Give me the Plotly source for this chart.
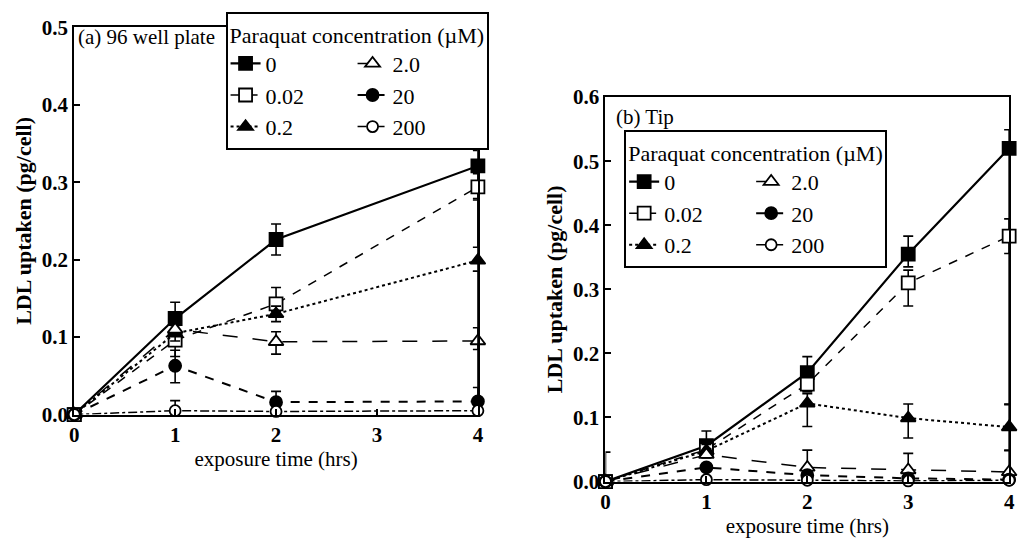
import plotly.graph_objects as go

# Paraquat concentrations (µM); the legend shows them in two columns
conc_labels = ["0", "0.02", "0.2", "2.0", "20", "200"]
legend_column = ["a", "a", "a", "b", "b", "b"]

# (a) 96 well plate: exposure times and LDL uptake (pg/cell)
plate_hours = [0, 1, 2, 4]
plate_0 = [0.0, 0.124, 0.226, 0.321]
plate_002 = [0.0, 0.096, 0.143, 0.294]
plate_02 = [0.0, 0.105, 0.130, 0.199]
plate_2 = [0.0, 0.110, 0.094, 0.095]
plate_20 = [0.0, 0.063, 0.016, 0.017]
plate_200 = [0.0, 0.005, 0.004, 0.005]

plate_0_up = [0.0, 0.021, 0.020, 0.020]
plate_0_dn = [0.0, 0.020, 0.020, 0.105]
plate_002_up = [0.0, 0.010, 0.021, 0.017]
plate_002_dn = [0.0, 0.021, 0.010, 0.017]
plate_02_up = [0.0, 0.010, 0.010, 0.080]
plate_02_dn = [0.0, 0.010, 0.010, 0.014]
plate_2_up = [0.0, 0.008, 0.013, 0.090]
plate_2_dn = [0.0, 0.008, 0.016, 0.011]
plate_20_up = [0.0, 0.020, 0.014, 0.095]
plate_20_dn = [0.0, 0.022, 0.005, 0.010]
plate_200_up = [0.0, 0.013, 0.003, 0.030]
plate_200_dn = [0.0, 0.005, 0.003, 0.005]

# (b) Tip: exposure times and LDL uptake (pg/cell)
tip_hours = [0, 1, 2, 3, 4]
tip_0 = [0.0, 0.056, 0.170, 0.355, 0.520]
tip_002 = [0.0, 0.050, 0.152, 0.310, 0.383]
tip_02 = [0.0, 0.048, 0.122, 0.099, 0.085]
tip_2 = [0.0, 0.042, 0.022, 0.018, 0.015]
tip_20 = [0.0, 0.022, 0.010, 0.005, 0.003]
tip_200 = [0.0, 0.003, 0.002, 0.001, 0.002]

tip_0_up = [0.046, 0.023, 0.025, 0.028, 0.029]
tip_0_dn = [0.0, 0.010, 0.010, 0.020, 0.400]
tip_002_up = [0.0, 0.010, 0.010, 0.020, 0.027]
tip_002_dn = [0.0, 0.010, 0.012, 0.036, 0.027]
tip_02_up = [0.0, 0.010, 0.015, 0.022, 0.036]
tip_02_dn = [0.0, 0.010, 0.036, 0.031, 0.036]
tip_2_up = [0.0, 0.005, 0.027, 0.026, 0.033]
tip_2_dn = [0.0, 0.005, 0.005, 0.005, 0.005]
tip_20_up = [0.0, 0.005, 0.004, 0.003, 0.002]
tip_20_dn = [0.0, 0.005, 0.004, 0.003, 0.002]
tip_200_up = [0.0, 0.002, 0.002, 0.001, 0.002]
tip_200_dn = [0.0, 0.002, 0.002, 0.001, 0.002]

x_ticks = [0, 1, 2, 3, 4]

FONT = "Liberation Serif"
FS = 21
LEG_FS = 22

# marker symbol, marker fill, line dash, line width, marker size per concentration
styles = {
    "0": ("square", "black", "solid", 2.2, 13),
    "0.02": ("square", "white", "dash", 1.5, 13),
    "0.2": ("triangle-up", "black", "dot", 2.0, 13),
    "2.0": ("triangle-up", "white", "longdash", 1.5, 13),
    "20": ("circle", "black", "dash", 2.0, 12),
    "200": ("circle", "white", "dashdot", 1.5, 11),
}

plate_series = [
    (plate_0, plate_0_up, plate_0_dn),
    (plate_002, plate_002_up, plate_002_dn),
    (plate_02, plate_02_up, plate_02_dn),
    (plate_2, plate_2_up, plate_2_dn),
    (plate_20, plate_20_up, plate_20_dn),
    (plate_200, plate_200_up, plate_200_dn),
]
tip_series = [
    (tip_0, tip_0_up, tip_0_dn),
    (tip_002, tip_002_up, tip_002_dn),
    (tip_02, tip_02_up, tip_02_dn),
    (tip_2, tip_2_up, tip_2_dn),
    (tip_20, tip_20_up, tip_20_dn),
    (tip_200, tip_200_up, tip_200_dn),
]

fig = go.Figure()


def add_panel(hours, series, xa, ya, legend_name):
    for label, col, (vals, up, dn) in zip(conc_labels, legend_column, series):
        sym, fill, dash, lw, ms = styles[label]
        fig.add_trace(go.Scatter(
            x=hours, y=vals, name=label, mode="lines+markers",
            xaxis=xa, yaxis=ya, legend=legend_name,
            legendgroup=legend_name + col,
            cliponaxis=False,
            line=dict(color="black", dash=dash, width=lw),
            marker=dict(symbol=sym, size=ms, color=fill,
                        line=dict(color="black", width=1.8)),
            error_y=dict(type="data", symmetric=False, array=up, arrayminus=dn,
                         color="black", thickness=1.6, width=5),
        ))


add_panel(plate_hours, plate_series, "x", "y", "legend")
add_panel(tip_hours, tip_series, "x2", "y2", "legend2")

axis_common = dict(
    showline=True, mirror=True, linecolor="black", linewidth=2,
    showgrid=False, zeroline=False, ticks="inside", ticklen=6, tickwidth=2,
    tickcolor="black",
    tickfont=dict(family=FONT, size=FS, color="black", weight="bold"),
)

legend_common = dict(
    orientation="h", bgcolor="white", bordercolor="black", borderwidth=2,
    font=dict(family=FONT, size=LEG_FS, color="black"),
    title=dict(text="Paraquat concentration (µM)", side="top",
               font=dict(family=FONT, size=LEG_FS, color="black")),
    xanchor="left", yanchor="top", traceorder="grouped", tracegroupgap=10,
    entrywidth=82, entrywidthmode="pixels",
)

ytitle_font = dict(family=FONT, size=22, weight="bold")

fig.update_layout(
    width=1026, height=549,
    margin=dict(l=0, r=0, t=0, b=0),
    paper_bgcolor="white", plot_bgcolor="white",
    font=dict(family=FONT, size=FS, color="black"),
    xaxis=dict(domain=[0.0682, 0.4659], range=[0, 4], tickvals=x_ticks,
               anchor="y",
               title=dict(text="exposure time (hrs)", standoff=0,
                          font=dict(family=FONT, size=FS)),
               **axis_common),
    yaxis=dict(domain=[0.2332, 0.9709], range=[0, 0.5], dtick=0.1,
               tickformat=".1f", anchor="x",
               title=dict(text="LDL uptaken (pg/cell)", standoff=4,
                          font=ytitle_font),
               **axis_common),
    xaxis2=dict(domain=[0.5916, 0.9893], range=[0, 4], tickvals=x_ticks,
                anchor="y2",
                title=dict(text="exposure time (hrs)", standoff=3,
                           font=dict(family=FONT, size=FS)),
                **axis_common),
    yaxis2=dict(domain=[0.1056, 0.8379], range=[0, 0.6], dtick=0.1,
                tickformat=".1f", anchor="x2",
                title=dict(text="LDL uptaken (pg/cell)", standoff=4,
                           font=ytitle_font),
                **axis_common),
    legend=dict(x=0.2173, y=1.0, **legend_common),
    legend2=dict(x=0.610, y=0.775, **legend_common),
    annotations=[
        dict(text="(a) 96 well plate", xref="x domain", yref="y domain",
             x=0.005, y=0.975, xanchor="left", yanchor="middle",
             showarrow=False, font=dict(family=FONT, size=FS)),
        dict(text="(b) Tip", xref="x2 domain", yref="y2 domain",
             x=0.022, y=0.948, xanchor="left", yanchor="middle",
             showarrow=False, font=dict(family=FONT, size=FS)),
    ],
)

fig.write_html("out.html")
